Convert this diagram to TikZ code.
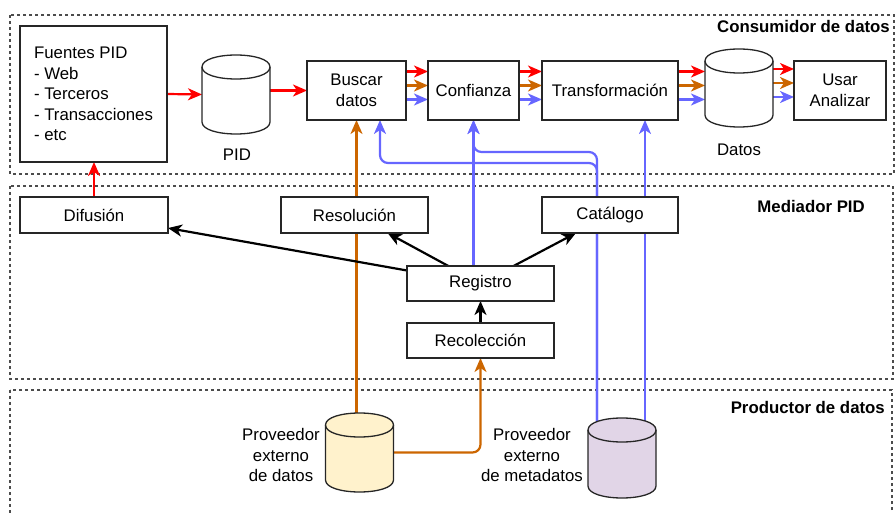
\documentclass[tikz,border=0pt]{standalone}
\usepackage{fontspec}
\setmainfont{Liberation Sans}
\usetikzlibrary{arrows.meta,calc}
\pgfdeclarelayer{bg}
\pgfsetlayers{bg,main}
\definecolor{cred}{HTML}{FF0000}
\definecolor{corange}{HTML}{CC6600}
\definecolor{cblue}{HTML}{6666FF}
\definecolor{cyellow}{HTML}{FFF2CC}
\definecolor{cpurple}{HTML}{E1D5E7}
\newcommand\cylshape[2]{%
 \draw[cylline, fill=#2] ([yshift=-12pt]#1.north west) .. controls ([yshift=4pt]#1.north west) and ([yshift=4pt]#1.north east) .. ([yshift=-12pt]#1.north east) -- ([yshift=12pt]#1.south east) .. controls ([yshift=-4pt]#1.south east) and ([yshift=-4pt]#1.south west) .. ([yshift=12pt]#1.south west) -- cycle;
 \draw[cylline] ([yshift=-12pt]#1.north west) .. controls ([yshift=-28pt]#1.north west) and ([yshift=-28pt]#1.north east) .. ([yshift=-12pt]#1.north east);}
\begin{document}
\begin{tikzpicture}[x=1pt,y=1pt,
  every node/.style={font=\fontsize{16.8}{20.5}\selectfont},
  box/.style={draw=black!85, line width=1.3pt, fill=white, inner sep=0pt, outer sep=0pt, align=center},
  cylbox/.style={inner sep=0pt, outer sep=0pt},
  cylline/.style={draw=black!85, line width=1.3pt},
  zone/.style={draw=black!70, line width=1.2pt, dash pattern=on 3pt off 3pt},
  title/.style={font=\fontsize{16.8}{20.5}\selectfont\bfseries, anchor=east, inner sep=0pt},
  conn/.style={line width=2.2pt, -{Stealth[length=14pt,width=12pt,inset=4pt]}},
  roundpath/.style={rounded corners=8pt}
]
\useasboundingbox (0,0) rectangle (895,512);

% boxes
\node[box, minimum width=147pt, minimum height=136pt, align=left] (fuentes) at (93.5,418) {Fuentes PID\\- Web\\- Terceros\\- Transacciones\\- etc};
\node[box, minimum width=99pt, minimum height=59pt] (buscar) at (356.5,421.5) {Buscar\\datos};
\node[box, minimum width=91pt, minimum height=59pt] (confianza) at (473.5,421.5) {Confianza};
\node[box, minimum width=136pt, minimum height=59pt] (transf) at (610,421.5) {Transformación};
\node[box, minimum width=92pt, minimum height=59pt] (usar) at (840,421.5) {Usar\\Analizar};
\node[box, minimum width=148pt, minimum height=36pt] (difusion) at (94,297) {Difusión};
\node[box, minimum width=147pt, minimum height=36pt] (resol) at (354.5,297) {Resolución};
\node[box, minimum width=136pt, minimum height=36pt] (catalogo) at (610,297) {Catálogo};
\node[box, minimum width=147pt, minimum height=35pt] (registro) at (480.5,228.5) {Registro};
\node[box, minimum width=147pt, minimum height=35pt] (recol) at (480.5,171.5) {Recolección};

% cylinders (anchor nodes)
\node[cylbox, minimum width=68pt, minimum height=79pt] (pid) at (236,417.5) {};
\node[cylbox, minimum width=68pt, minimum height=78pt] (datos) at (739,424) {};
\node[cylbox, minimum width=68pt, minimum height=79pt] (prov) at (359.5,59.5) {};
\node[cylbox, minimum width=68pt, minimum height=80pt] (meta) at (622,54) {};
\cylshape{pid}{white}
\cylshape{datos}{white}
\cylshape{prov}{cyellow}
\cylshape{meta}{cpurple}

% labels
\node (pidlbl) at (237,357) {PID};
\node (datoslbl) at (739,362) {Datos};
\node[align=center] (provlbl) at (281,57) {Proveedor\\externo\\de datos};
\node[align=center] (metalbl) at (532,57) {Proveedor\\externo\\de metadatos};
\node[title] (t1) at (890,486) {Consumidor de datos};
\node[title] (t2) at (865,306) {Mediador PID};
\node[title] (t3) at (885,105) {Productor de datos};

\begin{pgfonlayer}{bg}
\draw[zone] (10,497) rectangle (894,338);
\draw[zone] (10,326) rectangle (893,133);
\draw[zone] (10,122) rectangle (892,-10);

% red
\draw[conn, cred] (fuentes.east) -- (pid.west);
\draw[conn, cred] (pid.east |- buscar.west) -- (buscar.west);
\draw[conn, cred] (difusion.north) -- (difusion.north |- fuentes.south);

% triple arrows
\foreach \c/\o in {cred/19, corange/5, cblue/-9} {
  \draw[conn, \c] ([yshift=\o pt]buscar.east) -- ([yshift=\o pt]buscar.east -| confianza.west);
  \draw[conn, \c] ([yshift=\o pt]confianza.east) -- ([yshift=\o pt]confianza.east -| transf.west);
  \draw[conn, \c] ([yshift=\o pt]transf.east) -- ([yshift=\o pt]transf.east -| datos.west);
  \draw[conn, \c] ([yshift=\o pt]datos.east) -- ([yshift=\o pt]datos.east -| usar.west);
}

% blue
\draw[conn, cblue] (confianza.south |- registro.north) -- (confianza.south);
\draw[conn, cblue, roundpath] ([xshift=-25pt]meta.center) |- ([yshift=-32pt]confianza.south) -- (confianza.south);
\draw[conn, cblue, roundpath] ([xshift=-25pt]meta.center) |- ([xshift=23.5pt, yshift=-43pt]buscar.south) -- ([xshift=23.5pt]buscar.south);
\draw[conn, cblue] ([xshift=23pt]meta.center) -- ([xshift=23pt]meta.center |- transf.south);

% orange
\draw[conn, corange] (buscar.south |- prov.center) -- (buscar.south);
\draw[conn, corange, roundpath] (prov.center) -| (recol.south);

% black
\draw[conn, black] (registro) -- (difusion);
\draw[conn, black] (registro) -- (resol);
\draw[conn, black] (registro) -- (catalogo);
\draw[conn, black] (recol) -- (registro);
\end{pgfonlayer}
\end{tikzpicture}
\end{document}
